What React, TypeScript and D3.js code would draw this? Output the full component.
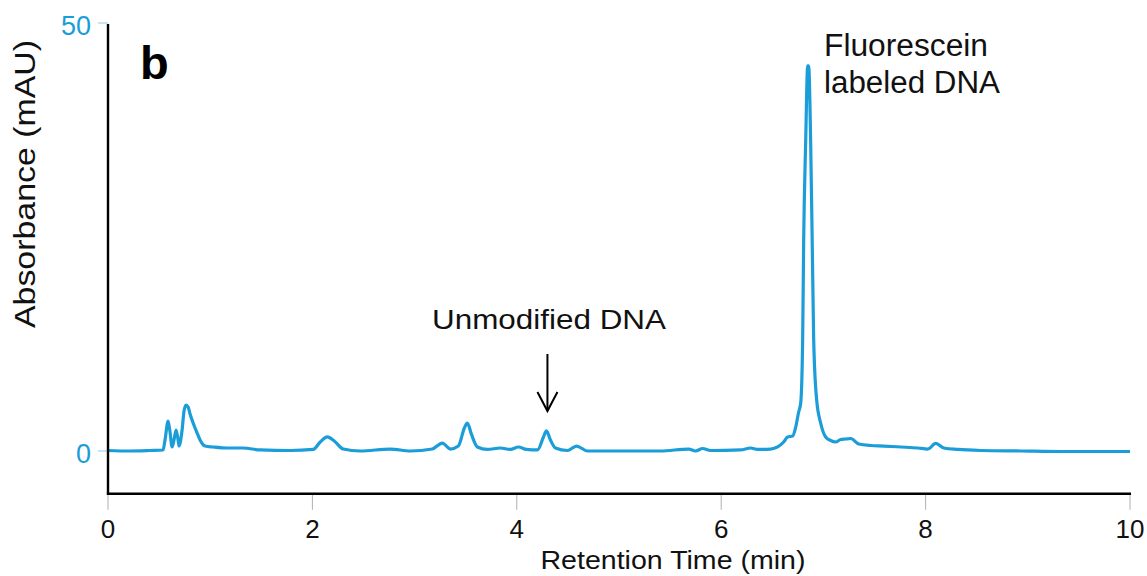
import React from "react";
import * as d3 from "d3";

// Chromatogram trace: retention time (min) and absorbance (mAU)
const retentionTime = [
  0, 0.215, 0.411, 0.539, 0.558, 0.588, 0.607, 0.627, 0.646, 0.666, 0.686, 0.695,
  0.725, 0.744, 0.764, 0.784, 0.803, 0.833, 0.872, 0.901, 0.95, 1.028, 1.166, 1.322,
  1.489, 1.783, 2.008, 2.077, 2.145, 2.214, 2.302, 2.468, 2.762, 2.958, 3.173, 3.271,
  3.35, 3.428, 3.487, 3.516, 3.555, 3.614, 3.712, 3.839, 3.937, 4.016, 4.094, 4.202,
  4.261, 4.29, 4.329, 4.378, 4.496, 4.584, 4.692, 5.015, 5.406, 5.681, 5.75, 5.818,
  5.896, 6.19, 6.288, 6.356, 6.484, 6.552, 6.611, 6.65, 6.699, 6.729, 6.758, 6.778,
  6.797, 6.807, 6.827, 6.846, 6.856, 6.875, 6.895, 6.905, 6.934, 6.973, 7.022, 7.071,
  7.12, 7.169, 7.218, 7.267, 7.346, 7.463, 7.591, 7.757, 7.924, 8.022, 8.1, 8.178,
  8.315, 8.541, 8.933, 9.324, 9.716, 10,
];
const absorbance = [
  0.06, 0, 0.06, 0.12, 1.29, 3.5, 2.22, 0.47, 1.29, 2.45, 1.29, 0.58,
  2.45, 4.67, 5.37, 5.14, 4.32, 3.27, 2.1, 1.29, 0.58, 0.47, 0.35, 0.35,
  0.12, 0.06, 0.18, 1.05, 1.64, 1.17, 0.23, 0, 0.23, 0, 0.23, 0.93,
  0.23, 0.58, 2.69, 3.27, 1.99, 0.47, 0.18, 0.35, 0.18, 0.47, 0.18, 0.12,
  1.64, 2.34, 1.29, 0.35, 0.06, 0.58, 0, 0, 0, 0.23, 0, 0.29,
  0.06, 0.12, 0.35, 0.18, 0.23, 0.47, 1.05, 1.64, 1.75, 2.8, 4.56, 5.61,
  12.97, 24.65, 36.33, 44.98, 44.98, 36.33, 20.79, 12.97, 5.96, 3.27, 1.64, 1.23,
  1.05, 1.34, 1.4, 1.46, 0.82, 0.64, 0.58, 0.47, 0.35, 0.23, 0.88, 0.35,
  0.18, 0.06, 0, -0.06, -0.06, -0.06,
];

const xTicks = [0, 2, 4, 6, 8, 10];
const yTicks = [0, 50];
const unmodifiedPeakTime = 4.29;

const WIDTH = 1147;
const HEIGHT = 576;
const TRACE = "#1a9dd9";
const FONT = "'Liberation Sans', Arial, Helvetica, sans-serif";

export default function App() {
  const x = d3.scaleLinear().domain([0, 10]).range([108, 1130]);
  const y = d3.scaleLinear().domain([0, 50]).range([451, 23]);
  const yBottom = y(-5);

  const points: [number, number][] = retentionTime.map((t, i) => [t, absorbance[i]]);
  const line = d3
    .line<[number, number]>()
    .x((d) => x(d[0]))
    .y((d) => y(d[1]))
    .curve(d3.curveMonotoneX);

  const ax = x(unmodifiedPeakTime) + 1;

  return (
    <svg
      width={WIDTH}
      height={HEIGHT}
      style={{ position: "absolute", left: 0, top: 0, background: "#fff" }}
      fontFamily={FONT}
    >
      {/* y ticks and labels */}
      {yTicks.map((v) => (
        <g key={`y${v}`}>
          <line x1={x(0) - 10} x2={x(0)} y1={y(v)} y2={y(v)} stroke="#8ccbea" strokeWidth={1} />
          <text x={91} y={y(v) + 12} textAnchor="end" fontSize={27} fill={TRACE}>
            {v}
          </text>
        </g>
      ))}

      {/* x ticks and labels */}
      {xTicks.map((v) => (
        <g key={`x${v}`}>
          <line x1={x(v)} x2={x(v)} y1={yBottom} y2={yBottom + 16} stroke="#b0b0b0" strokeWidth={1} />
          <text x={x(v)} y={538} textAnchor="middle" fontSize={26} fill="#111">
            {v}
          </text>
        </g>
      ))}

      {/* trace */}
      <path d={line(points) ?? ""} fill="none" stroke={TRACE} strokeWidth={3.2} strokeLinejoin="round" />

      {/* axes */}
      <line x1={x(0)} x2={x(0)} y1={y(50) + 1} y2={yBottom} stroke="#000" strokeWidth={2.4} />
      <line x1={x(0) - 1.2} x2={x(10) + 1} y1={yBottom} y2={yBottom} stroke="#000" strokeWidth={2.4} />

      {/* axis titles */}
      <text x={673} y={569} textAnchor="middle" fontSize={26} fill="#111" textLength={265} lengthAdjust="spacingAndGlyphs">
        Retention Time (min)
      </text>
      <text
        transform="translate(35,184) rotate(-90)"
        textAnchor="middle"
        fontSize={29}
        fill="#111"
        textLength={288}
        lengthAdjust="spacingAndGlyphs"
      >
        Absorbance (mAU)
      </text>

      {/* panel letter */}
      <text x={140} y={79} fontSize={47} fontWeight="bold" fill="#000">
        b
      </text>

      {/* annotations */}
      <text x={432} y={329} fontSize={28} fill="#111" textLength={234} lengthAdjust="spacingAndGlyphs">
        Unmodified DNA
      </text>
      <line x1={ax} x2={ax} y1={354} y2={411} stroke="#000" strokeWidth={2} />
      <polyline
        points={`${ax - 10},${392} ${ax},${411} ${ax + 10},${392}`}
        fill="none"
        stroke="#000"
        strokeWidth={2}
      />
      <text x={824} y={56} fontSize={31} fill="#111" textLength={164} lengthAdjust="spacingAndGlyphs">
        Fluorescein
      </text>
      <text x={824} y={93} fontSize={31} fill="#111" textLength={176} lengthAdjust="spacingAndGlyphs">
        labeled DNA
      </text>
    </svg>
  );
}
